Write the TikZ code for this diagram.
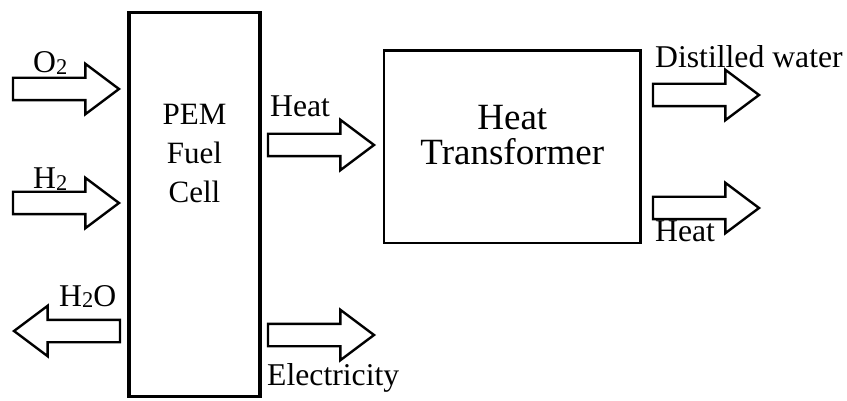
\documentclass[tikz,border=0pt]{standalone}
\usepackage{fontspec}
\setmainfont{Liberation Serif}
\usetikzlibrary{shapes.arrows}
\newcommand{\subtwo}{\raisebox{-1.5pt}{\fontsize{22.5}{22.5}\selectfont 2}}
\tikzset{
  cell/.style={draw, rectangle, line width=3.5pt, minimum width=131pt, minimum height=383.6pt, inner sep=0pt, outer sep=0pt},
  xfer/.style={draw, rectangle, line width=2.7pt, minimum width=256.7pt, minimum height=192.3pt, inner sep=0pt, outer sep=0pt},
  fat/.style={single arrow, draw, line width=2.4pt, minimum height=106pt, minimum width=0pt, inner xsep=0pt, inner ysep=10pt, outer sep=0pt, single arrow head extend=14pt, single arrow tip angle=73.7},
  inbox/.style={align=center, inner sep=0pt, anchor=north, font=\fontsize{31}{39}\selectfont},
  lbl/.style={inner sep=0pt, anchor=base west, font=\fontsize{31.7}{39}\selectfont},
}
\begin{document}
\begin{tikzpicture}[x=1pt, y=-1pt]
  \useasboundingbox (0,0) rectangle (847,401);
  % the two blocks
  \node[cell] (fc) at (194.5,204.5) {};
  \node[inbox] (fctxt) at (194.5,104) {PEM\\Fuel\\Cell};
  \node[xfer] (ht) at (512.3,146.8) {};
  \node[inbox, font=\fontsize{37}{35}\selectfont] (httxt) at (512.3,105) {Heat\\Transformer};
  % block arrows
  \foreach \n/\x/\y in {o2/13/89, h2/13/203, heat/268/145, elec/268/335, water/653/95, heatout/653/208}
    \node[fat, anchor=tail] (\n) at (\x,\y) {};
  \node[fat, anchor=tip, shape border rotate=180] (h2o) at (14,331) {};
  % labels
  \node[lbl] (o2l) at (33,73) {O\subtwo};
  \node[lbl] (h2l) at (33,189) {H\subtwo};
  \node[lbl] (h2ol) at (59,306) {H\subtwo O};
  \node[lbl] (heatl) at (270,116.7) {Heat};
  \node[lbl] (elecl) at (267,385) {Electricity};
  \node[lbl] (waterl) at (655,67.7) {Distilled water};
  \node[lbl] (heatoutl) at (655,241.7) {Heat};
\end{tikzpicture}
\end{document}
